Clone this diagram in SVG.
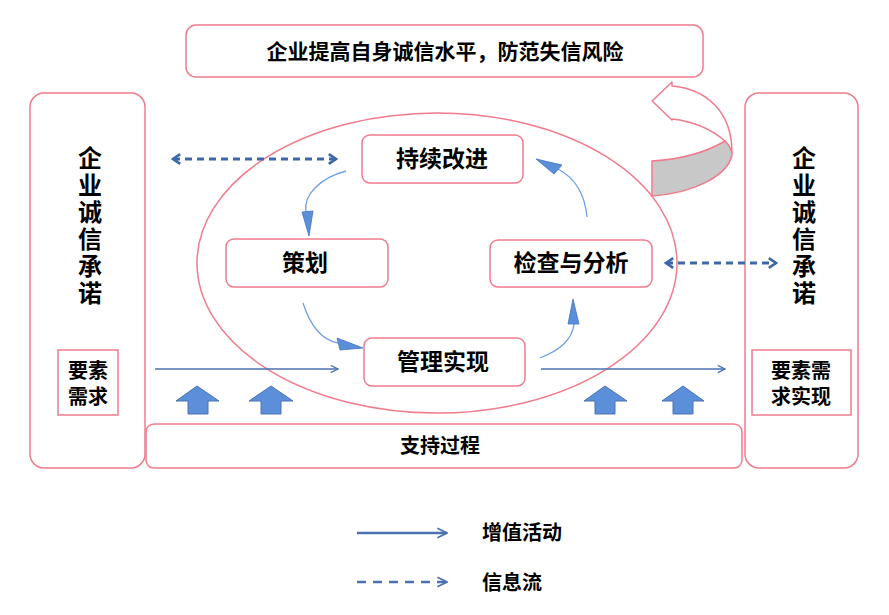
<svg xmlns="http://www.w3.org/2000/svg" width="889" height="615" viewBox="0 0 889 615">
<style>
.box{fill:#fff;stroke:#ef7b8c;stroke-width:1.5}
.t{font-family:"Liberation Sans","Noto Sans CJK SC",sans-serif;font-weight:700;fill:#000;text-anchor:middle;dominant-baseline:central}
.solid{fill:none;stroke:#4a72b0;stroke-width:1.5}
.dash{fill:none;stroke:#3e67a8;stroke-width:3;stroke-dasharray:7 5}
.curve{fill:none;stroke:#6fa0e3;stroke-width:1.3}
.head{fill:#5b8fd9;stroke:#4472c4;stroke-width:0.8}
.blk{fill:#5b8fd9;stroke:#4a72b0;stroke-width:1}
</style>
<defs>
<marker id="open" viewBox="0 0 10 10" refX="9" refY="5" markerWidth="9" markerHeight="9" markerUnits="userSpaceOnUse" orient="auto">
<path d="M1,1 L9,5 L1,9" fill="none" stroke="#4a72b0" stroke-width="1.5"/>
</marker>
<marker id="chev" viewBox="0 0 10 10" refX="8" refY="5" markerWidth="4" markerHeight="4" orient="auto-start-reverse">
<path d="M2,1 L8,5 L2,9" fill="none" stroke="#3e67a8" stroke-width="2.2"/>
</marker>
<marker id="open2" viewBox="0 0 10 10" refX="9" refY="5" markerWidth="12" markerHeight="12" markerUnits="userSpaceOnUse" orient="auto">
<path d="M1,1 L9,5 L1,9" fill="none" stroke="#4a72b0" stroke-width="1.5"/>
</marker>
</defs>
<rect width="889" height="615" fill="#fff"/>

<g id="top-goal">
<rect class="box" x="186" y="25" width="517" height="52" rx="10"/>
<text class="t" x="445" y="51" font-size="21">企业提高自身诚信水平，防范失信风险</text>
</g>

<g id="left-commit">
<rect class="box" x="30" y="93" width="115" height="375" rx="14"/>
<text class="t" font-size="24"><tspan x="90" y="158">企</tspan><tspan x="90" y="185">业</tspan><tspan x="90" y="212">诚</tspan><tspan x="90" y="239">信</tspan><tspan x="90" y="266">承</tspan><tspan x="90" y="293">诺</tspan></text>
</g>
<g id="left-demand">
<rect x="58" y="350" width="60" height="65" fill="#fff" stroke="#ef7b8c" stroke-width="1.5"/>
<text class="t" font-size="20"><tspan x="88" y="371">要素</tspan><tspan x="88" y="397">需求</tspan></text>
</g>

<g id="right-commit">
<rect class="box" x="745" y="93" width="113" height="375" rx="14"/>
<text class="t" font-size="24"><tspan x="804" y="158">企</tspan><tspan x="804" y="185">业</tspan><tspan x="804" y="212">诚</tspan><tspan x="804" y="239">信</tspan><tspan x="804" y="266">承</tspan><tspan x="804" y="293">诺</tspan></text>
</g>
<g id="right-demand">
<rect x="752" y="350" width="99" height="65" fill="#fff" stroke="#ef7b8c" stroke-width="1.5"/>
<text class="t" font-size="20"><tspan x="801" y="371">要素需</tspan><tspan x="801" y="397">求实现</tspan></text>
</g>

<g id="support">
<rect class="box" x="146" y="424" width="596" height="44" rx="8"/>
<text class="t" x="440" y="446" font-size="20">支持过程</text>
</g>

<g id="cycle-ellipse">
<ellipse cx="437" cy="263" rx="240" ry="150" fill="none" stroke="#ef7b8c" stroke-width="1.5"/>
</g>

<g id="curved-arrow">
<path d="M652,101 L672,82 L672,86 C705,89 732,110 732,153 L725,141 C710,128 690,121 672,119 L672,120 Z" fill="#fff" stroke="#ef7b8c" stroke-width="1.5" stroke-linejoin="round"/>
<path d="M652,161 C685,159 710,150 725,141 C730,146 732,150 732,155 C728,175 695,193 652,196 Z" fill="#c8c8c8" stroke="#ef7b8c" stroke-width="1.5" stroke-linejoin="round"/>
</g>

<g id="n-improve">
<rect class="box" x="362" y="135" width="161" height="48" rx="8"/>
<text class="t" x="442" y="159" font-size="23">持续改进</text>
</g>
<g id="n-plan">
<rect class="box" x="226" y="239" width="162" height="48" rx="8"/>
<text class="t" x="305" y="263" font-size="23">策划</text>
</g>
<g id="n-check">
<rect class="box" x="490" y="240" width="162" height="47" rx="8"/>
<text class="t" x="571" y="263" font-size="23">检查与分析</text>
</g>
<g id="n-implement">
<rect class="box" x="364" y="338" width="161" height="48" rx="8"/>
<text class="t" x="443" y="362" font-size="23">管理实现</text>
</g>

<g id="connectors">
<path class="curve" d="M346,171 C320,178 303,195 306,212"/>
<polygon class="head" points="302,212 313,211 309,236"/>
<path class="curve" d="M303,303 C310,325 322,340 338,343"/>
<polygon class="head" points="337,338 340,350 363,348"/>
<path class="curve" d="M540,358 C560,350 572,340 574,324"/>
<polygon class="head" points="568,324 579,324 573,299"/>
<path class="curve" d="M587,217 C585,195 575,178 558,169"/>
<polygon class="head" points="554,174 562,165 536,159"/>

<line class="solid" x1="155" y1="369" x2="338" y2="369" marker-end="url(#open)"/>
<line class="solid" x1="541" y1="369" x2="725" y2="369" marker-end="url(#open)"/>

<line class="dash" x1="173" y1="159" x2="336" y2="159" marker-start="url(#chev)" marker-end="url(#chev)"/>
<line class="dash" x1="666" y1="263" x2="776" y2="263" marker-start="url(#chev)" marker-end="url(#chev)"/>

<polygon class="blk" points="197,386 219,401 208,401 208,414 188,414 188,401 176,401"/>
<polygon class="blk" points="271,386 293,401 281,401 281,414 261,414 261,401 249,401"/>
<polygon class="blk" points="605,386 627,401 615,401 615,414 595,414 595,401 584,401"/>
<polygon class="blk" points="683,386 704,401 693,401 693,414 673,414 673,401 662,401"/>
</g>

<g id="legend">
<line x1="357" y1="533" x2="447" y2="533" stroke="#4a72b0" stroke-width="2.5" marker-end="url(#open2)"/>
<text class="t" x="482" y="533" font-size="20" text-anchor="start" style="text-anchor:start">增值活动</text>
<line x1="357" y1="582" x2="447" y2="582" stroke="#4a72b0" stroke-width="2.5" stroke-dasharray="9 7" marker-end="url(#open2)"/>
<text class="t" x="482" y="583" font-size="20" style="text-anchor:start">信息流</text>
</g>
</svg>
